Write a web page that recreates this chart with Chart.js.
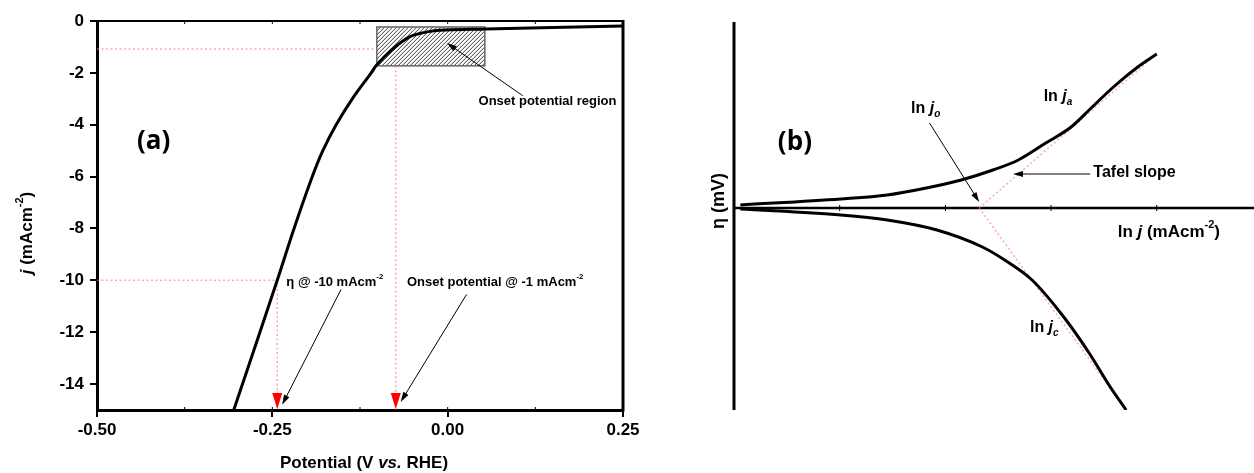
<!DOCTYPE html>
<html>
<head>
<meta charset="utf-8">
<script src="https://cdn.jsdelivr.net/npm/chart.js@4.4.1/dist/chart.umd.min.js"></script>
<style>
  body { margin: 0; background: #fff; }
  #wrap { position: relative; width: 1254px; height: 473px; }
  .box { position: absolute; top: 0; height: 473px; }
</style>
</head>
<body>
<div id="wrap">
  <div class="box" style="left:0;width:700px"><canvas id="chartA" width="700" height="473"></canvas></div>
  <div class="box" style="left:700px;width:554px"><canvas id="chartB" width="554" height="473"></canvas></div>
</div>
<script>
// ---- panel (a): polarisation curve ----
const potential = [-0.305, -0.243, -0.219, -0.193, -0.178, -0.159, -0.136, -0.109, -0.101, -0.080, -0.055, -0.031, -0.003, 0.054, 0.150, 0.250];
const current   = [-15, -10, -8, -6, -5, -4, -3, -2, -1.69, -1.12, -0.62, -0.43, -0.35, -0.31, -0.25, -0.19];
const xTicksA = [-0.5, -0.25, 0, 0.25];
const yTicksA = [0, -2, -4, -6, -8, -10, -12, -14];
const eta10 = -0.243;      // potential at -10 mA cm-2
const onset = -0.074;      // potential at -1 mA cm-2
const onsetJ = -1.08;
const regionV = [-0.101, 0.053];
const regionJ = [-0.23, -1.73];

// ---- panel (b): Tafel schematic ----
const lnJAnodic  = [0.06, 1.01, 1.45, 1.82, 2.15, 2.45, 2.69, 2.95, 3.19, 3.36, 3.59, 3.82, 4.00];
const etaAnodic  = [0.03, 0.09, 0.13, 0.20, 0.28, 0.38, 0.48, 0.65, 0.81, 0.98, 1.21, 1.41, 1.54];
const lnJCathodic = [0.06, 1.01, 1.45, 1.92, 2.35, 2.59, 2.82, 3.12, 3.36, 3.56, 3.71];
const etaCathodic = [-0.01, -0.07, -0.12, -0.22, -0.39, -0.54, -0.72, -1.09, -1.45, -1.79, -2.02];
const lnJo = 2.32;
const tafelAnodicEnd = [4.00, 1.54];
const tafelCathodicEnd = [3.71, -2.02];
const xTicksB = [1, 2, 3, 4];

const AR = "'Liberation Sans', Arial, sans-serif";
const pink = 'rgba(255,110,110,0.6)';

function pts(xs, ys) { return xs.map((x, i) => ({ x: x, y: ys[i] })); }

function runFont(f, size) {
  const small = f.includes('^') || f.includes('_');
  const s = small ? Math.round(size * 0.62) : size;
  return (f.includes('i') ? 'italic ' : '') + 'bold ' + s + 'px ' + AR;
}
function runsWidth(ctx, runs, size) {
  let w = 0;
  runs.forEach(([t, f]) => { ctx.font = runFont(f, size); w += ctx.measureText(t).width; });
  return w;
}
function drawRuns(ctx, runs, x, y, size, align) {
  ctx.save();
  ctx.fillStyle = '#000';
  ctx.textBaseline = 'middle';
  ctx.textAlign = 'left';
  let cx = align === 'center' ? x - runsWidth(ctx, runs, size) / 2 : x;
  runs.forEach(([t, f]) => {
    ctx.font = runFont(f, size);
    const dy = f.includes('^') ? -size * 0.42 : (f.includes('_') ? size * 0.32 : 0);
    ctx.fillText(t, cx, y + dy);
    cx += ctx.measureText(t).width;
  });
  ctx.restore();
}
function arrow(ctx, x1, y1, x2, y2) {
  const a = Math.atan2(y2 - y1, x2 - x1);
  ctx.save();
  ctx.strokeStyle = '#000';
  ctx.fillStyle = '#000';
  ctx.lineWidth = 1;
  ctx.beginPath();
  ctx.moveTo(x1, y1);
  ctx.lineTo(x2 - 7 * Math.cos(a), y2 - 7 * Math.sin(a));
  ctx.stroke();
  ctx.beginPath();
  ctx.moveTo(x2, y2);
  ctx.lineTo(x2 - 10 * Math.cos(a) + 3 * Math.sin(a), y2 - 10 * Math.sin(a) - 3 * Math.cos(a));
  ctx.lineTo(x2 - 10 * Math.cos(a) - 3 * Math.sin(a), y2 - 10 * Math.sin(a) + 3 * Math.cos(a));
  ctx.closePath();
  ctx.fill();
  ctx.restore();
}

const labelsA = [
  { x: 0.044, y: -3.12, size: 13, runs: [['Onset potential region', '']] },
  { x: -0.230, y: -10.08, size: 13, runs: [['η @ -10 mAcm', ''], ['-2', '^']] },
  { x: -0.058, y: -10.08, size: 13, runs: [['Onset potential @ -1 mAcm', ''], ['-2', '^']] }
];
const arrowsA = [
  [-0.152, -10.35, -0.236, -14.8],
  [0.027, -10.54, -0.067, -14.69],
  [0.107, -2.88, -0.001, -0.85]
];

const dotted = { showLine: true, pointRadius: 0, borderColor: pink, borderWidth: 1.5, borderDash: [2, 2.5] };

const panelAPlugin = {
  id: 'panelA',
  beforeDatasetsDraw(chart) {
    const { ctx, scales: { x, y } } = chart;
    const l = x.getPixelForValue(regionV[0]), r = x.getPixelForValue(regionV[1]);
    const t = y.getPixelForValue(regionJ[0]), b = y.getPixelForValue(regionJ[1]);
    ctx.save();
    ctx.fillStyle = '#fff';
    ctx.fillRect(l, t, r - l, b - t);
    ctx.beginPath();
    ctx.rect(l, t, r - l, b - t);
    ctx.clip();
    ctx.strokeStyle = '#222';
    ctx.lineWidth = 0.9;
    for (let s = l - (b - t); s < r; s += 4) {
      ctx.beginPath();
      ctx.moveTo(s, b);
      ctx.lineTo(s + (b - t), t);
      ctx.stroke();
    }
    ctx.restore();
    ctx.save();
    ctx.strokeStyle = '#666';
    ctx.lineWidth = 1.5;
    ctx.strokeRect(l, t, r - l, b - t);
    ctx.restore();
  },
  afterDatasetsDraw(chart) {
    const { ctx, chartArea: ca, scales: { x, y } } = chart;
    ctx.save();
    ctx.strokeStyle = '#000';
    ctx.lineWidth = 2;
    ctx.beginPath();
    ctx.moveTo(ca.left, ca.top);
    ctx.lineTo(ca.right, ca.top);
    ctx.stroke();
    ctx.lineWidth = 3;
    ctx.beginPath();
    ctx.moveTo(ca.right, ca.top - 1);
    ctx.lineTo(ca.right, ca.bottom + 1.5);
    ctx.stroke();
    // small inward ticks on top and bottom
    ctx.lineWidth = 1;
    for (let v = -0.375; v < 0.25; v += 0.125) {
      const px = x.getPixelForValue(v);
      ctx.beginPath();
      ctx.moveTo(px, ca.top);
      ctx.lineTo(px, ca.top + 3);
      ctx.moveTo(px, ca.bottom);
      ctx.lineTo(px, ca.bottom - 3);
      ctx.stroke();
    }
    // red markers on the potential axis
    ctx.fillStyle = '#ff0000';
    [eta10, onset].forEach(v => {
      const px = x.getPixelForValue(v);
      ctx.beginPath();
      ctx.moveTo(px - 5, ca.bottom - 17);
      ctx.lineTo(px + 5, ca.bottom - 17);
      ctx.lineTo(px, ca.bottom - 1);
      ctx.closePath();
      ctx.fill();
    });
    ctx.restore();
    arrowsA.forEach(a => arrow(ctx, x.getPixelForValue(a[0]), y.getPixelForValue(a[1]), x.getPixelForValue(a[2]), y.getPixelForValue(a[3])));
    labelsA.forEach(l => drawRuns(ctx, l.runs, x.getPixelForValue(l.x), y.getPixelForValue(l.y), l.size));
    ctx.save();
    ctx.font = "bold 26px 'Open Sans', sans-serif";
    ctx.fillStyle = '#000';
    ctx.textBaseline = 'middle';
    ctx.fillText('(a)', x.getPixelForValue(-0.443), y.getPixelForValue(-4.65));
    ctx.restore();
    // axis titles
    drawRuns(ctx, [['Potential (V ', ''], ['vs.', 'i'], [' RHE)', '']], (ca.left + ca.right) / 2 + 4, 463, 17, 'center');
    ctx.save();
    ctx.translate(27, 233);
    ctx.rotate(-Math.PI / 2);
    drawRuns(ctx, [['j', 'i'], [' (mAcm', ''], ['-2', '^'], [')', '']], 0, 0, 17, 'center');
    ctx.restore();
  }
};

const tickFont = { family: AR, size: 17, weight: 'bold' };

new Chart(document.getElementById('chartA'), {
  type: 'scatter',
  data: {
    datasets: [
      { data: pts(potential, current), showLine: true, pointRadius: 0, borderColor: '#000', borderWidth: 3, tension: 0.4 },
      Object.assign({ data: [{ x: -0.5, y: -10 }, { x: eta10, y: -10 }, { x: eta10, y: -15 }] }, dotted),
      Object.assign({ data: [{ x: -0.5, y: onsetJ }, { x: regionV[0], y: onsetJ }] }, dotted),
      Object.assign({ data: [{ x: onset, y: regionJ[1] }, { x: onset, y: -15 }] }, dotted)
    ]
  },
  options: {
    responsive: false,
    animation: false,
    layout: { padding: { left: 0, top: 21, right: 77, bottom: 0 } },
    plugins: { legend: { display: false }, tooltip: { enabled: false } },
    scales: {
      x: {
        type: 'linear', min: -0.5, max: 0.25,
        afterBuildTicks: s => { s.ticks = xTicksA.map(v => ({ value: v })); },
        afterFit: s => { s.height = 63; },
        ticks: { font: tickFont, color: '#000', padding: 3, callback: v => Number(v).toFixed(2) },
        grid: { drawOnChartArea: false, drawTicks: true, tickLength: 7, lineWidth: 2, color: '#000' },
        border: { width: 3, color: '#000' }
      },
      y: {
        type: 'linear', min: -15, max: 0,
        afterBuildTicks: s => { s.ticks = yTicksA.map(v => ({ value: v })); },
        afterFit: s => { s.width = 97; },
        ticks: { font: tickFont, color: '#000', padding: 6 },
        grid: { drawOnChartArea: false, drawTicks: true, tickLength: 7, lineWidth: 2, color: '#000' },
        border: { width: 3, color: '#000' }
      }
    }
  },
  plugins: [panelAPlugin]
});

// ---- panel (b) ----
const labelsB = [
  { x: 1.675, y: 0.99, size: 16, runs: [['ln ', ''], ['j', 'i'], ['o', 'i_']] },
  { x: 2.93, y: 1.11, size: 16, runs: [['ln ', ''], ['j', 'i'], ['a', 'i_']] },
  { x: 3.40, y: 0.35, size: 16, runs: [['Tafel slope', '']] },
  { x: 3.63, y: -0.24, size: 17, runs: [['ln ', ''], ['j', 'i'], [' (mAcm', ''], ['-2', '^'], [')', '']] },
  { x: 2.80, y: -1.20, size: 16, runs: [['ln ', ''], ['j', 'i'], ['c', 'i_']] }
];
const arrowsB = [
  [1.85, 0.85, 2.32, 0.06],
  [3.37, 0.34, 2.64, 0.34]
];

const panelBPlugin = {
  id: 'panelB',
  beforeDatasetsDraw(chart) {
    const { ctx, chartArea: ca, scales: { x, y } } = chart;
    const x0 = x.getPixelForValue(0), y0 = y.getPixelForValue(0);
    ctx.save();
    ctx.strokeStyle = '#000';
    ctx.lineWidth = 3;
    ctx.beginPath();
    ctx.moveTo(x0, ca.top);
    ctx.lineTo(x0, ca.bottom);
    ctx.stroke();
    ctx.lineWidth = 2.5;
    ctx.beginPath();
    ctx.moveTo(x0, y0);
    ctx.lineTo(ca.right, y0);
    ctx.stroke();
    ctx.lineWidth = 1;
    xTicksB.forEach(v => {
      const px = x.getPixelForValue(v);
      ctx.beginPath();
      ctx.moveTo(px, y0 - 3);
      ctx.lineTo(px, y0 + 3);
      ctx.stroke();
    });
    ctx.restore();
  },
  afterDatasetsDraw(chart) {
    const { ctx, scales: { x, y } } = chart;
    arrowsB.forEach(a => arrow(ctx, x.getPixelForValue(a[0]), y.getPixelForValue(a[1]), x.getPixelForValue(a[2]), y.getPixelForValue(a[3])));
    labelsB.forEach(l => drawRuns(ctx, l.runs, x.getPixelForValue(l.x), y.getPixelForValue(l.y), l.size));
    ctx.save();
    ctx.font = "bold 26px 'Open Sans', sans-serif";
    ctx.fillStyle = '#000';
    ctx.textBaseline = 'middle';
    ctx.fillText('(b)', x.getPixelForValue(0.415), y.getPixelForValue(0.65));
    ctx.translate(x.getPixelForValue(-0.14), y.getPixelForValue(0.07));
    ctx.rotate(-Math.PI / 2);
    drawRuns(ctx, [['η (mV)', '']], 0, 0, 18, 'center');
    ctx.restore();
  }
};

new Chart(document.getElementById('chartB'), {
  type: 'scatter',
  data: {
    datasets: [
      { data: pts(lnJAnodic, etaAnodic), showLine: true, pointRadius: 0, borderColor: '#000', borderWidth: 3, cubicInterpolationMode: 'monotone' },
      { data: pts(lnJCathodic, etaCathodic), showLine: true, pointRadius: 0, borderColor: '#000', borderWidth: 3, cubicInterpolationMode: 'monotone' },
      Object.assign({ data: [{ x: lnJo, y: 0 }, { x: tafelAnodicEnd[0], y: tafelAnodicEnd[1] }] }, dotted),
      Object.assign({ data: [{ x: lnJo, y: 0 }, { x: tafelCathodicEnd[0], y: tafelCathodicEnd[1] }] }, dotted)
    ]
  },
  options: {
    responsive: false,
    animation: false,
    layout: { padding: { left: 34, top: 22, right: 0, bottom: 63 } },
    plugins: { legend: { display: false }, tooltip: { enabled: false } },
    scales: {
      x: { type: 'linear', display: false, min: 0, max: 4.92 },
      y: { type: 'linear', display: false, min: -2.02, max: 1.86 }
    }
  },
  plugins: [panelBPlugin]
});
</script>
</body>
</html>
